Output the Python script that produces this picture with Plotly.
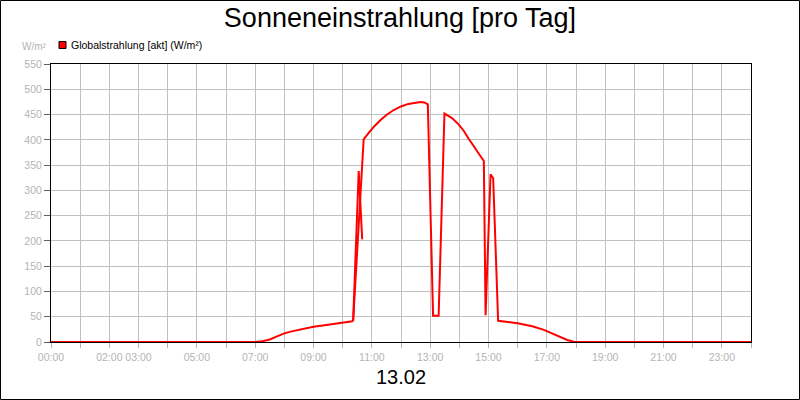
import plotly.graph_objects as go

# Sonneneinstrahlung, 13.02
hours = [0, 7.0, 7.25, 7.5, 7.75, 8.0, 8.25, 8.5, 9.0, 9.5, 10.0, 10.33, 10.36, 10.55, 10.67,
         None,
         10.36, 10.72, 10.9, 11.07, 11.3, 11.5, 11.75, 12.0, 12.25, 12.5, 12.67, 12.8, 12.92,
         13.1, 13.29, 13.49, 13.75, 13.98, 14.15, 14.32, 14.5, 14.70, 14.84, 14.90,
         15.07, 15.16, 15.33, 16.0, 16.5, 16.9, 17.1, 17.35, 17.5, 17.7, 17.92, 18.1, 24]
watts = [0, 0, 1.5, 5, 11, 17, 21, 24.5, 30, 34, 38, 41, 43, 338, 203,
         None,
         43, 401, 414, 426, 439, 449, 459, 466, 471, 474, 475, 474, 470,
         52, 52, 452, 443, 430, 418, 402, 387, 370, 358, 53,
         332, 324, 42, 37, 31, 24, 19, 14, 9, 4, 0.5, 0, 0]

tick_hours = list(range(0, 25))
tick_text = ['00:00', '', '02:00', '03:00', '', '05:00', '', '07:00', '', '09:00', '', '11:00',
             '', '13:00', '', '15:00', '', '17:00', '', '19:00', '', '21:00', '', '23:00', '']
y_ticks = list(range(0, 551, 50))

grey = '#b4b4b4'

# plot box is 700 x 278 px, helpers to place things in pixels
def px_x(p):
    return (p - 51) / 700

def px_y(p):
    return (342 - p) / 278

fig = go.Figure()
fig.add_trace(go.Scatter(x=hours, y=watts, mode='lines', connectgaps=False,
                         line=dict(color='#ff0000', width=2), showlegend=False))

fig.update_layout(
    width=800, height=400,
    margin=dict(l=51, r=49, t=64, b=58, autoexpand=False),
    paper_bgcolor='white', plot_bgcolor='white',
    font=dict(family='Liberation Sans, Arial, sans-serif'),
    title=dict(text='Sonneneinstrahlung [pro Tag]', x=0.5, xanchor='center',
               y=0.955, yanchor='middle', font=dict(size=27, color='black')),
    showlegend=False,
)

fig.update_xaxes(range=[0, 24], tickvals=tick_hours, ticktext=tick_text, tickangle=0,
                 automargin=False,
                 showgrid=True, gridcolor='#c0c0c0', gridwidth=1,
                 ticks='outside', ticklen=5, tickcolor=grey,
                 tickfont=dict(size=10.5, color=grey),
                 showline=True, linecolor='black', linewidth=1, mirror=True,
                 zeroline=False)
fig.update_yaxes(range=[0, 550], tickvals=y_ticks, automargin=False,
                 showgrid=True, gridcolor='#c0c0c0', gridwidth=1,
                 ticks='outside', ticklen=6, tickcolor='#606060',
                 tickfont=dict(size=10.5, color=grey),
                 showline=True, linecolor='black', linewidth=1, mirror=True,
                 zeroline=False)

# legend entry: red box + text
fig.add_shape(type='rect', xref='paper', yref='paper',
              x0=px_x(59), x1=px_x(66), y0=px_y(48.5), y1=px_y(41.5),
              line=dict(color='black', width=1), fillcolor='#ff0000')
fig.add_annotation(text='Globalstrahlung [akt] (W/m²)', xref='paper', yref='paper',
                   x=px_x(69), y=px_y(45), xanchor='left', yanchor='middle',
                   showarrow=False, font=dict(size=10.5, color='black'))

fig.add_annotation(text='W/m²', xref='paper', yref='paper', x=px_x(49), y=px_y(47),
                   xanchor='right', yanchor='middle', showarrow=False,
                   font=dict(size=10, color=grey))
fig.add_annotation(text='13.02', xref='paper', yref='paper', x=0.5, y=px_y(377),
                   xanchor='center', yanchor='middle', showarrow=False,
                   font=dict(size=20, color='black'))

# black frame round the whole picture
fig.add_shape(type='rect', xref='paper', yref='paper',
              x0=px_x(0.5), x1=px_x(799.5), y0=px_y(399.5), y1=px_y(0.5),
              line=dict(color='black', width=1), fillcolor='rgba(0,0,0,0)')

# page body has an 8px margin by default, drop it so the chart sits at 0,0
fig.write_html('out.html', config={'displayModeBar': False},
               post_script="document.body.style.margin='0';")
